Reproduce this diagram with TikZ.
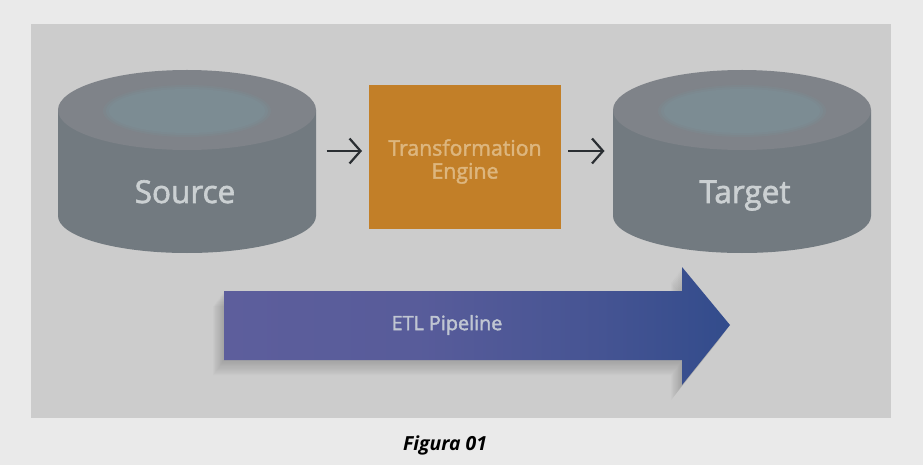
\documentclass[tikz,border=0pt]{standalone}
\usepackage{fontspec}
\setmainfont{Open Sans}
\newfontfamily\labelfont[FakeBold=2]{Open Sans}
\usetikzlibrary{arrows.meta}
\definecolor{outerbg}{HTML}{EAEAEA}
\definecolor{panelbg}{HTML}{CCCCCC}
\definecolor{cylside}{HTML}{727A80}
\definecolor{cyltop}{HTML}{7F8389}
\definecolor{cylinner}{HTML}{7C8C93}
\definecolor{cyltext}{HTML}{CBD0D2}
\definecolor{orangebox}{HTML}{C27F28}
\definecolor{orangetext}{HTML}{DDB67E}
\definecolor{arrowleft}{HTML}{5D5E9C}
\definecolor{arrowright}{HTML}{2E4A8A}
\definecolor{arrowtext}{HTML}{C0C6D2}
\definecolor{flowink}{HTML}{2A2E32}
\pgfdeclarehorizontalshading{pipeshade}{100bp}{
  color(0bp)=(arrowleft); color(25bp)=(arrowleft); color(45bp)=(arrowleft!88!arrowright);
  color(62bp)=(arrowleft!50!arrowright); color(78bp)=(arrowright); color(100bp)=(arrowright)}
\tikzset{
  x=1pt,y=-1pt,
  cylanchor/.style={minimum width=259pt,minimum height=204pt,inner sep=0pt,outer sep=0pt},
  cyllabel/.style={anchor=base,font=\labelfont\fontsize{31.5}{32}\selectfont,text=cyltext},
  enginebox/.style={fill=orangebox,minimum width=192pt,minimum height=144pt,inner sep=0pt,outer sep=0pt},
  enginelabel/.style={font=\labelfont\fontsize{21.3}{23}\selectfont,text=orangetext,align=center},
  flowarrow/.style={draw=flowink,line width=2.2pt,-{Straight Barb[length=11pt,width=25pt,line width=2.2pt]}},
  pipeshadow/.style={fill=black,opacity=0.016},
}
\newcommand{\cylbody}[1]{%
  \fill[cylside] (#1-129,110) -- (#1-129,216) arc[start angle=180,end angle=360,x radius=129,y radius=-37]
    -- (#1+129,110) -- cycle;
  \fill[cyltop] (#1,110) ellipse[x radius=129,y radius=40];
  \fill[cylinner,opacity=.35] (#1,111) ellipse[x radius=84,y radius=26];
  \fill[cylinner,opacity=.6] (#1,111) ellipse[x radius=81,y radius=24];
  \fill[cylinner] (#1,111) ellipse[x radius=78,y radius=22];
}
\begin{document}
\begin{tikzpicture}
\useasboundingbox (0,0) rectangle (923,465);
\fill[outerbg] (0,0) rectangle (923,465);
\fill[panelbg] (31,24) rectangle (891,418);
\cylbody{187}
\cylbody{742}
\node[cylanchor] (source) at (187,151) {};
\node[cylanchor] (target) at (742,151) {};
\node[cyllabel] (sourcelabel) at (185,203) {Source};
\node[cyllabel] (targetlabel) at (745,203) {Target};
\node[enginebox] (engine) at (465,157) {};
\node[enginelabel] (enginetext) at (465,161.5) {Transformation\\Engine};
\draw[flowarrow,shorten <=10pt,shorten >=7pt] (source.east) -- (engine.west |- source.east);
\draw[flowarrow,shorten <=7pt,shorten >=8pt] (engine.east |- target.west) -- (target.west);
\foreach \k in {1,...,12}{
  \path[pipeshadow,shift={(-0.9*\k,1.25*\k)}]
    (224,291) -- (682,291) -- (682,267) -- (730,325) -- (682,385) -- (682,360) -- (224,360) -- cycle;
}
\shade[shading=pipeshade]
  (224,291) -- (682,291) -- (682,267) -- (730,325) -- (682,385) -- (682,360) -- (224,360) -- cycle;
\node[font=\labelfont\fontsize{19.8}{20}\selectfont,text=arrowtext] (pipeline) at (447,325) {ETL Pipeline};
\node[font=\bfseries\itshape\fontsize{19.4}{20}\selectfont,text=black] (caption) at (445,445) {Figura 01};
\end{tikzpicture}
\end{document}
